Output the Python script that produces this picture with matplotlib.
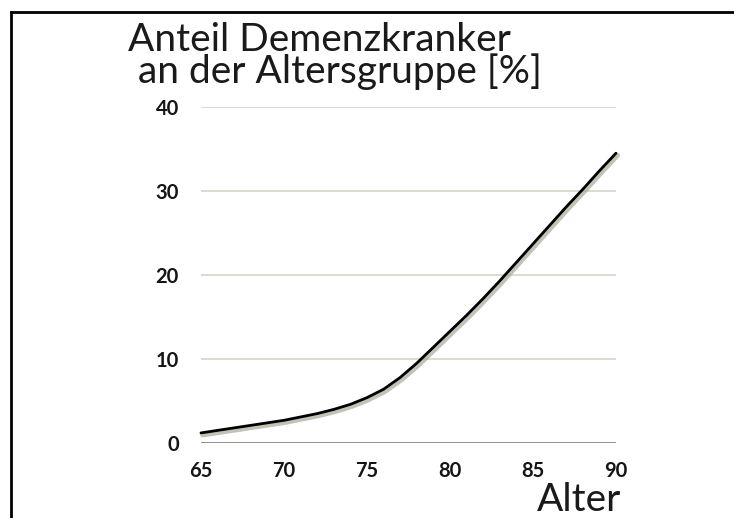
import matplotlib.pyplot as plt
import matplotlib.patheffects as pe
from matplotlib.lines import Line2D

# Werte
alter = [65, 66, 67, 68, 69, 70, 71, 72, 73, 74, 75, 76, 77,
         78, 79, 80, 81, 82, 83, 84, 85, 86, 87, 88, 89, 90]
anteil = [1.2, 1.5, 1.8, 2.1, 2.4, 2.7, 3.1, 3.5, 4.0, 4.6, 5.4, 6.4, 7.8,
          9.5, 11.4, 13.3, 15.2, 17.2, 19.3, 21.5, 23.7, 25.9, 28.1, 30.2, 32.4, 34.5]
x_ticks = [65, 70, 75, 80, 85, 90]
y_ticks = [0, 10, 20, 30, 40]

fig = plt.figure(figsize=(7.34, 5.18), dpi=100)
ax = fig.add_axes([0.2738, 0.1448, 0.5654, 0.6486])

ax.set_xlim(65, 90)
ax.set_ylim(0, 40)

for y in y_ticks[1:]:
    ax.axhline(y, color='#d8d8cc', lw=1.3, zorder=1)
ax.axhline(0, color='#8a8a85', lw=1.3, zorder=1)

ax.plot(alter, anteil, color='black', lw=2.0, solid_capstyle='round',
        solid_joinstyle='round', zorder=3, clip_on=False,
        path_effects=[pe.SimpleLineShadow(offset=(1.2, -1.5), shadow_color='#a8a898',
                                          alpha=0.7, linewidth=3.5),
                      pe.Normal()])

for s in ax.spines.values():
    s.set_visible(False)
ax.tick_params(length=0)
ax.set_xticks(x_ticks)
ax.set_yticks(y_ticks)
ax.set_xticklabels([str(v) for v in x_ticks], fontfamily='Lato', fontweight='bold',
                   fontsize=14.5, color='#151515')
ax.set_yticklabels([str(v) for v in y_ticks], fontfamily='Lato', fontweight='bold',
                   fontsize=14.5, color='#151515')
ax.tick_params(axis='x', pad=13)
ax.tick_params(axis='y', pad=16)

titel = dict(fontfamily='Lato', fontweight='normal', fontsize=28, color='#1a1a1a')
fig.text(128 / 734, 1 - 22 / 518, 'Anteil Demenzkranker\n an der Altersgruppe [%]',
         ha='left', va='top', linespacing=0.85, **titel)
fig.text(621 / 734, 1 - 511 / 518, 'Alter', ha='right', va='baseline', **titel)

# Rahmen oben und links
fig.add_artist(Line2D([11 / 734, 11 / 734], [0, 1 - 12 / 518], color='black',
                      lw=2, transform=fig.transFigure))
fig.add_artist(Line2D([11 / 734, 1], [1 - 12 / 518, 1 - 12 / 518], color='black',
                      lw=2, transform=fig.transFigure))

fig.savefig('out.png', dpi=100)
